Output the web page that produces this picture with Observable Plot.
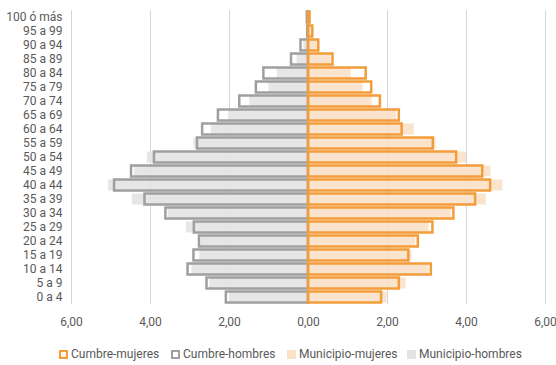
<!DOCTYPE html>
<html>
<head>
<meta charset="utf-8">
<script src="https://cdn.jsdelivr.net/npm/d3@7"></script>
<script src="https://cdn.jsdelivr.net/npm/@observablehq/plot@0.6"></script>
<style>
  body { margin: 0; background: #fff; font-family: Roboto, "Open Sans", sans-serif; }
  #legend { display: flex; margin-left: 59px; margin-top: 11px; font-size: 12px; color: #595959; line-height: 16px; }
  #legend .item { display: flex; align-items: center; gap: 3px; white-space: nowrap; }
  #legend .sw { width: 9px; height: 9px; box-sizing: border-box; display: inline-block; flex: none; }
</style>
</head>
<body>
<div id="chart"></div>
<div id="legend"></div>
<script>
const ages = ["0 a 4","5 a 9","10 a 14","15 a 19","20 a 24","25 a 29","30 a 34","35 a 39","40 a 44","45 a 49","50 a 54","55 a 59","60 a 64","65 a 69","70 a 74","75 a 79","80 a 84","85 a 89","90 a 94","95 a 99","100 ó más"];
const cumbreHombres   = [2.08, 2.57, 3.05, 2.90, 2.76, 2.89, 3.61, 4.14, 4.91, 4.48, 3.90, 2.81, 2.68, 2.28, 1.74, 1.32, 1.13, 0.43, 0.19, 0.02, 0.03];
const municipioHombres= [2.00, 2.50, 2.95, 2.75, 2.72, 3.09, 3.55, 4.46, 5.06, 4.40, 4.08, 2.90, 2.46, 2.02, 1.49, 1.00, 0.79, 0.29, 0.12, 0.04, 0.01];
const cumbreMujeres   = [1.85, 2.30, 3.11, 2.54, 2.78, 3.15, 3.68, 4.23, 4.61, 4.41, 3.75, 3.16, 2.37, 2.30, 1.82, 1.60, 1.46, 0.62, 0.26, 0.11, 0.04];
const municipioMujeres= [1.99, 2.47, 3.05, 2.62, 2.71, 3.05, 3.62, 4.50, 4.92, 4.62, 4.00, 3.23, 2.68, 2.23, 1.61, 1.38, 1.08, 0.57, 0.22, 0.08, 0.02];
const xTicks = [-6, -4, -2, 0, 2, 4, 6];
const seriesNames = ["Cumbre-mujeres", "Cumbre-hombres", "Municipio-mujeres", "Municipio-hombres"];

const orange = "#f39c3a", peach = "#fbe1c8", gray = "#9f9f9f", lightGray = "#e3e3e3";

const rows = (arr, sign) => ages.map((a, i) => ({age: a, v: sign * arr[i]}));
const fmt = d => Math.abs(d).toFixed(2).replace(".", ",");

const chart = Plot.plot({
  width: 556, height: 335,
  marginLeft: 71, marginRight: 11, marginTop: 10, marginBottom: 31,
  style: {fontFamily: "Roboto, sans-serif", fontSize: "12px", color: "#595959"},
  x: {domain: [-6, 6], label: null},
  y: {domain: ages.slice().reverse(), padding: 0, label: null},
  marks: [
    Plot.gridX(xTicks, {stroke: "#d6d6d6", strokeOpacity: 1, strokeWidth: 1}),
    Plot.barX(rows(municipioHombres, -1), {x: "v", y: "age", fill: lightGray, fillOpacity: 0.9, insetTop: 1.5, insetBottom: 1.5}),
    Plot.barX(rows(municipioMujeres, 1), {x: "v", y: "age", fill: peach, fillOpacity: 0.9, insetTop: 1.5, insetBottom: 1.5}),
    Plot.barX(rows(cumbreHombres, -1), {x: "v", y: "age", fill: "none", stroke: gray, strokeWidth: 2.5, insetTop: 1.5, insetBottom: 1.5}),
    Plot.barX(rows(cumbreMujeres, 1), {x: "v", y: "age", fill: "none", stroke: orange, strokeWidth: 2.5, insetTop: 1.5, insetBottom: 1.5}),
    Plot.axisX(xTicks, {tickSize: 0, tickPadding: 13, tickFormat: fmt, fill: "#595959", fontSize: 12, label: null}),
    Plot.axisY({tickSize: 0, tickPadding: 9, fill: "#595959", fontSize: 12, label: null})
  ]
});
document.getElementById("chart").appendChild(chart);

const swatches = [
  {border: orange, fill: "#fff3e6"},
  {border: gray, fill: "#fff"},
  {border: peach, fill: peach},
  {border: lightGray, fill: lightGray}
];
const itemWidths = [112, 116, 120, null];
const legend = document.getElementById("legend");
seriesNames.forEach((name, i) => {
  const item = document.createElement("span");
  item.className = "item";
  if (itemWidths[i]) item.style.width = itemWidths[i] + "px";
  const sw = document.createElement("span");
  sw.className = "sw";
  sw.style.border = (i < 2 ? "2px" : "0") + " solid " + swatches[i].border;
  sw.style.background = swatches[i].fill;
  item.appendChild(sw);
  const t = document.createElement("span");
  t.textContent = name;
  item.appendChild(t);
  legend.appendChild(item);
});
</script>
</body>
</html>
